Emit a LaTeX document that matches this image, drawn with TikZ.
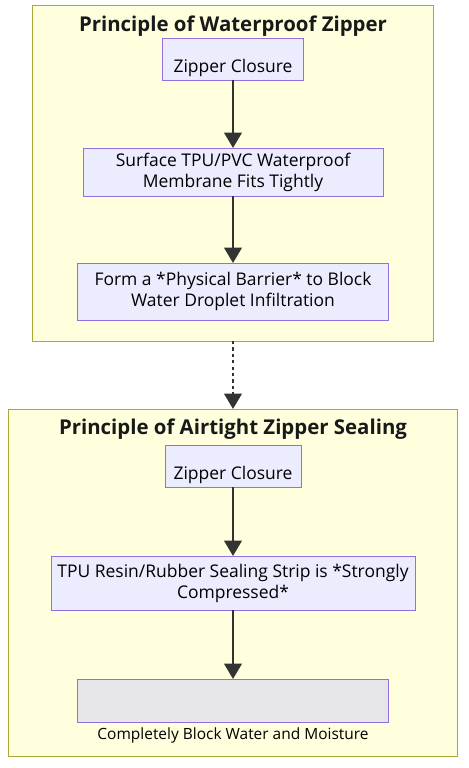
\documentclass[tikz,border=0pt]{standalone}
\usepackage{fontspec}
\setmainfont{Open Sans}
\usetikzlibrary{arrows.meta}
\newlength{\pxu}
\setlength{\pxu}{0.75pt}
\definecolor{clusterfill}{HTML}{FFFFDE}
\definecolor{clusterline}{HTML}{AAAA33}
\definecolor{stepfill}{HTML}{ECECFF}
\definecolor{stepline}{HTML}{9370DB}
\definecolor{flowline}{HTML}{333333}
\definecolor{blurfill}{HTML}{E6E6EA}
\begin{document}
\begin{tikzpicture}[x=0.75pt, y=-0.75pt,
    cluster/.style={draw=clusterline, fill=clusterfill, line width=0.75pt, inner sep=0pt, outer sep=0pt},
    stepbox/.style={draw=stepline, fill=stepfill, line width=0.75pt, inner sep=0pt, outer sep=0pt,
      align=center, font=\fontsize{13.1pt}{15.75pt}\selectfont},
    oneline/.style={stepbox, text height=25.3pt, text depth=5.5pt},
    heading/.style={font=\fontsize{15.3pt}{19pt}\selectfont\bfseries, text=black!90},
    flow/.style={draw=flowline, line width=2.1pt, -{Triangle[width=13pt, length=11.5pt]}},
    dottedflow/.style={flow, dash pattern=on 2.4pt off 2.4pt}]
  \useasboundingbox (0,0) rectangle (468,768);

  % waterproof zipper
  \node[cluster, minimum width=401\pxu, minimum height=336\pxu] (wp) at (233,173) {};
  \node[heading] (wpt) at (233,26) {Principle of Waterproof Zipper};
  \node[oneline, minimum width=141\pxu] (a1) at (233,59.5) {Zipper Closure};
  \node[stepbox, minimum width=300\pxu, minimum height=48\pxu] (a2) at (233,172)
    {Surface TPU/PVC Waterproof\\Membrane Fits Tightly};
  \node[stepbox, minimum width=311\pxu, minimum height=57\pxu] (a3) at (233,291.5)
    {Form a *Physical Barrier* to Block\\Water Droplet Infiltration};

  % airtight zipper
  \node[cluster, minimum width=449\pxu, minimum height=347\pxu] (at) at (233,582.5) {};
  \node[heading] (att) at (233,429.5) {Principle of Airtight Zipper Sealing};
  \node[oneline, minimum width=136\pxu] (b1) at (233,466.5) {Zipper Closure};
  \node[stepbox, minimum width=364\pxu, minimum height=54\pxu] (b2) at (233,583)
    {TPU Resin/Rubber Sealing Strip is *Strongly\\Compressed*};
  \node[stepbox, fill=blurfill, minimum width=311\pxu, minimum height=43\pxu,
    label={[font=\fontsize{11.6pt}{14pt}\selectfont, inner sep=4pt]below:Completely Block Water and Moisture}]
    (b3) at (233,700.5) {};

  \draw[flow] (a1) -- (a2);
  \draw[flow] (a2) -- (a3);
  \draw[dottedflow] (wp) -- (at);
  \draw[flow] (b1) -- (b2);
  \draw[flow] (b2) -- (b3);
\end{tikzpicture}
\end{document}
